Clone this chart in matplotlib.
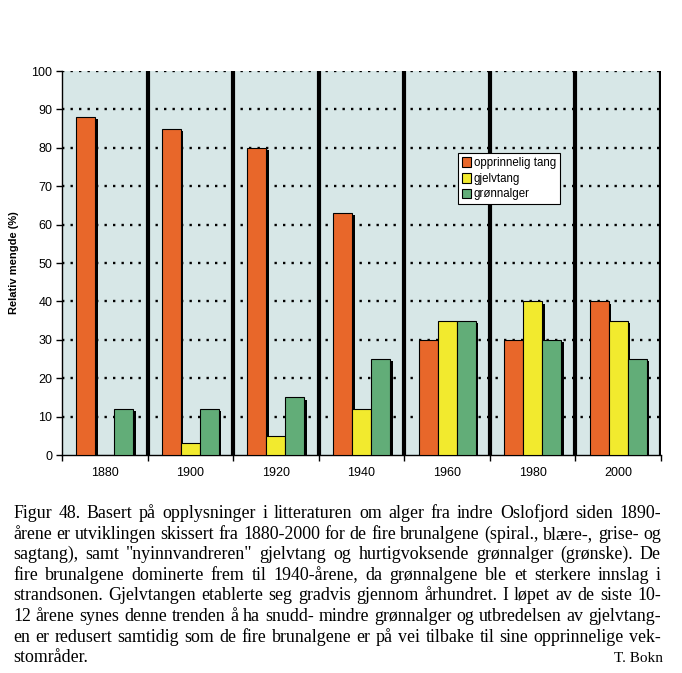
import numpy as np
import matplotlib
matplotlib.use("Agg")
import matplotlib.pyplot as plt
from matplotlib.patches import Patch

# data
years = ["1880", "1900", "1920", "1940", "1960", "1980", "2000"]
opprinnelig = [88, 85, 80, 63, 30, 30, 40]
gjelvtang = [0, 3, 5, 12, 35, 40, 35]
gronnalger = [12, 12, 15, 25, 35, 30, 25]
series_names = ["opprinnelig tang", "gjelvtang", "grønnalger"]
yticks = list(range(0, 101, 10))

caption_lines = [
    "Figur 48. Basert på opplysninger i litteraturen om alger fra indre Oslofjord siden 1890-",
    "årene er utviklingen skissert fra 1880-2000 for de fire brunalgene (spiral., blære-, grise- og",
    "sagtang), samt \"nyinnvandreren\" gjelvtang og hurtigvoksende grønnalger (grønske). De",
    "fire brunalgene dominerte frem til 1940-årene, da grønnalgene ble et sterkere innslag i",
    "strandsonen. Gjelvtangen etablerte seg gradvis gjennom århundret. I løpet av de siste 10-",
    "12 årene synes denne trenden å ha snudd- mindre grønnalger og utbredelsen av gjelvtang-",
    "en er redusert samtidig som de fire brunalgene er på vei tilbake til sine opprinnelige vek-",
]
last_line = "stområder."
signature = "T. Bokn"

colors = ["#e8672a", "#f2ea2e", "#62ad78"]
bg = "#d7e7e7"

W, H = 682, 673
fig = plt.figure(figsize=(W / 100, H / 100), dpi=100)
fig.patch.set_facecolor("white")

ax = fig.add_axes([62 / W, 1 - 455 / H, (661 - 62) / W, (455 - 71) / H])
ax.set_facecolor(bg)

x = np.arange(len(years)) + 0.5
bw = 0.222
offsets = [-bw, 0, bw]
for vals, off, c in zip([opprinnelig, gjelvtang, gronnalger], offsets, colors):
    vals = np.array(vals, dtype=float)
    shadow_h = np.where(vals > 0, vals - 0.6, 0)
    ax.bar(x + off + 0.03, shadow_h, width=bw, color="black", zorder=3, linewidth=0)
    ax.bar(x + off, vals, width=bw, color=c, edgecolor="black", linewidth=0.8, zorder=4)

# dotted horizontal grid
for yv in yticks[1:]:
    ax.axhline(yv, color="black", linestyle=(0, (1, 2.6)), linewidth=1.7, zorder=2)

# thick separators between groups
for xb in range(1, len(years) + 1):
    ax.axvline(xb, color="black", linewidth=3, zorder=5)

ax.set_xlim(0, len(years))
ax.set_ylim(0, 100)
ax.set_yticks(yticks)
ax.set_xticks(range(len(years) + 1))
ax.set_xticklabels([])
ax.set_xticks(x, minor=True)
ax.set_xticklabels(years, minor=True, fontsize=9, family="Liberation Sans")
ax.tick_params(axis="x", which="minor", length=0, pad=9)
ax.tick_params(axis="x", which="major", length=4, width=1, direction="out")
ax.tick_params(axis="y", length=4, width=1, direction="out", labelsize=9, pad=3)
for lab in ax.get_yticklabels():
    lab.set_family("Liberation Sans")

ax.spines["top"].set_visible(False)
ax.spines["right"].set_visible(False)
ax.spines["left"].set_linewidth(1)
ax.spines["bottom"].set_linewidth(1)

ax.set_ylabel("Relativ mengde (%)", fontsize=8, fontweight="bold",
              family="Liberation Sans", labelpad=9)

handles = [Patch(facecolor=c, edgecolor="black", linewidth=0.8) for c in colors]
leg = ax.legend(handles, series_names, loc="upper left",
                bbox_to_anchor=((458 - 62) / 599, (455 - 153) / 384),
                prop={"family": "Liberation Sans", "size": 8.3},
                fancybox=False, framealpha=1, edgecolor="black",
                handlelength=0.8, handleheight=0.9, handletextpad=0.2,
                borderpad=0.35, labelspacing=0.32, borderaxespad=0)
leg.get_frame().set_linewidth(0.8)
leg.set_zorder(10)

# justified caption
renderer = fig.canvas.get_renderer()
left_px, right_px = 13, 661
cap_font = dict(family="Liberation Serif", fontsize=12.9, va="baseline")
base0, step = 518, 20.6


def word_width(w):
    t = fig.text(0, 0, w, **cap_font)
    wd = t.get_window_extent(renderer).width
    t.remove()
    return wd


for i, line in enumerate(caption_lines):
    yb = 1 - (base0 + i * step) / H
    words = line.split(" ")
    widths = [word_width(w) for w in words]
    gap = (right_px - left_px - sum(widths)) / (len(words) - 1)
    xp = left_px
    for w, wd in zip(words, widths):
        fig.text(xp / W, yb, w, ha="left", **cap_font)
        xp += wd + gap

yb = 1 - (base0 + len(caption_lines) * step) / H
fig.text(left_px / W, yb, last_line, ha="left", **cap_font)
fig.text(663 / W, yb, signature, ha="right", family="Liberation Serif",
         fontsize=11, va="baseline")

fig.savefig("out.png", dpi=100)
